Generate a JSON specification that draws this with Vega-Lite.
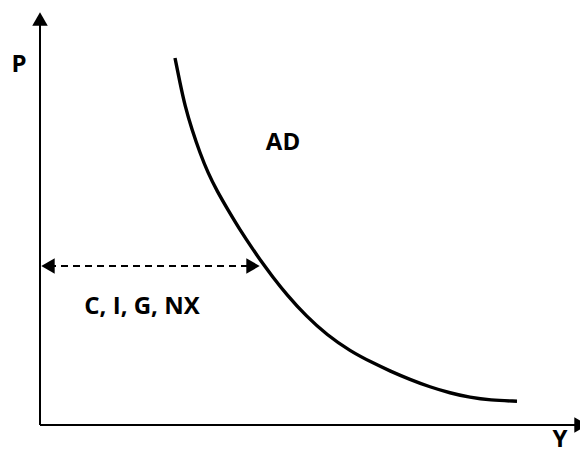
{
  "$schema": "https://vega.github.io/schema/vega-lite/v6.json",
  "width": 580,
  "height": 454,
  "autosize": {"type": "none"},
  "padding": 0,
  "config": {"view": {"stroke": null}},
  "datasets": {
    "curve": [
      {"Y": 135, "P": 367}, {"Y": 140, "P": 342}, {"Y": 145, "P": 319},
      {"Y": 152, "P": 295}, {"Y": 160, "P": 272}, {"Y": 168, "P": 252},
      {"Y": 177, "P": 234}, {"Y": 188, "P": 215}, {"Y": 200, "P": 195},
      {"Y": 213, "P": 175.5}, {"Y": 222, "P": 162.5}, {"Y": 232, "P": 149},
      {"Y": 247, "P": 130}, {"Y": 266, "P": 109}, {"Y": 287, "P": 90},
      {"Y": 310, "P": 74}, {"Y": 333, "P": 62}, {"Y": 350, "P": 54},
      {"Y": 370, "P": 45.5}, {"Y": 390, "P": 38}, {"Y": 410, "P": 32},
      {"Y": 430, "P": 27.5}, {"Y": 450, "P": 24.8}, {"Y": 477, "P": 23.8}
    ],
    "axes": [
      {"x": 0, "y": 0, "x2": 0, "y2": 402},
      {"x": 0, "y": 0, "x2": 535, "y2": 0}
    ],
    "dash": [{"x": 9, "y": 159, "x2": 212, "y2": 159}],
    "heads": [
      {"x": 0, "y": 406, "shape": "triangle-up"},
      {"x": 541, "y": 0, "shape": "triangle-right"},
      {"x": 8, "y": 159, "shape": "triangle-left"},
      {"x": 213, "y": 159, "shape": "triangle-right"}
    ],
    "labels": [
      {"x": -21, "y": 353, "label": "P"},
      {"x": 520, "y": -22, "label": "Y"},
      {"x": 243, "y": 275, "label": "AD"},
      {"x": 102, "y": 111, "label": "C, I, G, NX"}
    ]
  },
  "layer": [
    {
      "data": {"name": "axes"},
      "mark": {"type": "rule", "color": "black", "strokeWidth": 2},
      "encoding": {
        "x": {"field": "x", "type": "quantitative", "scale": {"domain": [-40, 540], "nice": false, "zero": false}, "axis": null},
        "y": {"field": "y", "type": "quantitative", "scale": {"domain": [-29, 425], "nice": false, "zero": false}, "axis": null},
        "x2": {"field": "x2"},
        "y2": {"field": "y2"}
      }
    },
    {
      "data": {"name": "dash"},
      "mark": {"type": "rule", "color": "black", "strokeWidth": 2, "strokeDash": [7, 5]},
      "encoding": {
        "x": {"field": "x", "type": "quantitative"},
        "y": {"field": "y", "type": "quantitative"},
        "x2": {"field": "x2"},
        "y2": {"field": "y2"}
      }
    },
    {
      "data": {"name": "curve"},
      "mark": {"type": "line", "color": "black", "strokeWidth": 3.4, "interpolate": "basis"},
      "encoding": {
        "x": {"field": "Y", "type": "quantitative"},
        "y": {"field": "P", "type": "quantitative"}
      }
    },
    {
      "data": {"name": "heads"},
      "mark": {"type": "point", "filled": true, "color": "black", "opacity": 1, "size": 240},
      "encoding": {
        "x": {"field": "x", "type": "quantitative"},
        "y": {"field": "y", "type": "quantitative"},
        "shape": {"field": "shape", "type": "nominal", "scale": null}
      }
    },
    {
      "data": {"name": "labels"},
      "mark": {"type": "text", "color": "black", "font": "Open Sans", "fontWeight": "bold", "fontSize": 24, "align": "center", "baseline": "alphabetic"},
      "encoding": {
        "x": {"field": "x", "type": "quantitative"},
        "y": {"field": "y", "type": "quantitative"},
        "text": {"field": "label", "type": "nominal"}
      }
    }
  ]
}
